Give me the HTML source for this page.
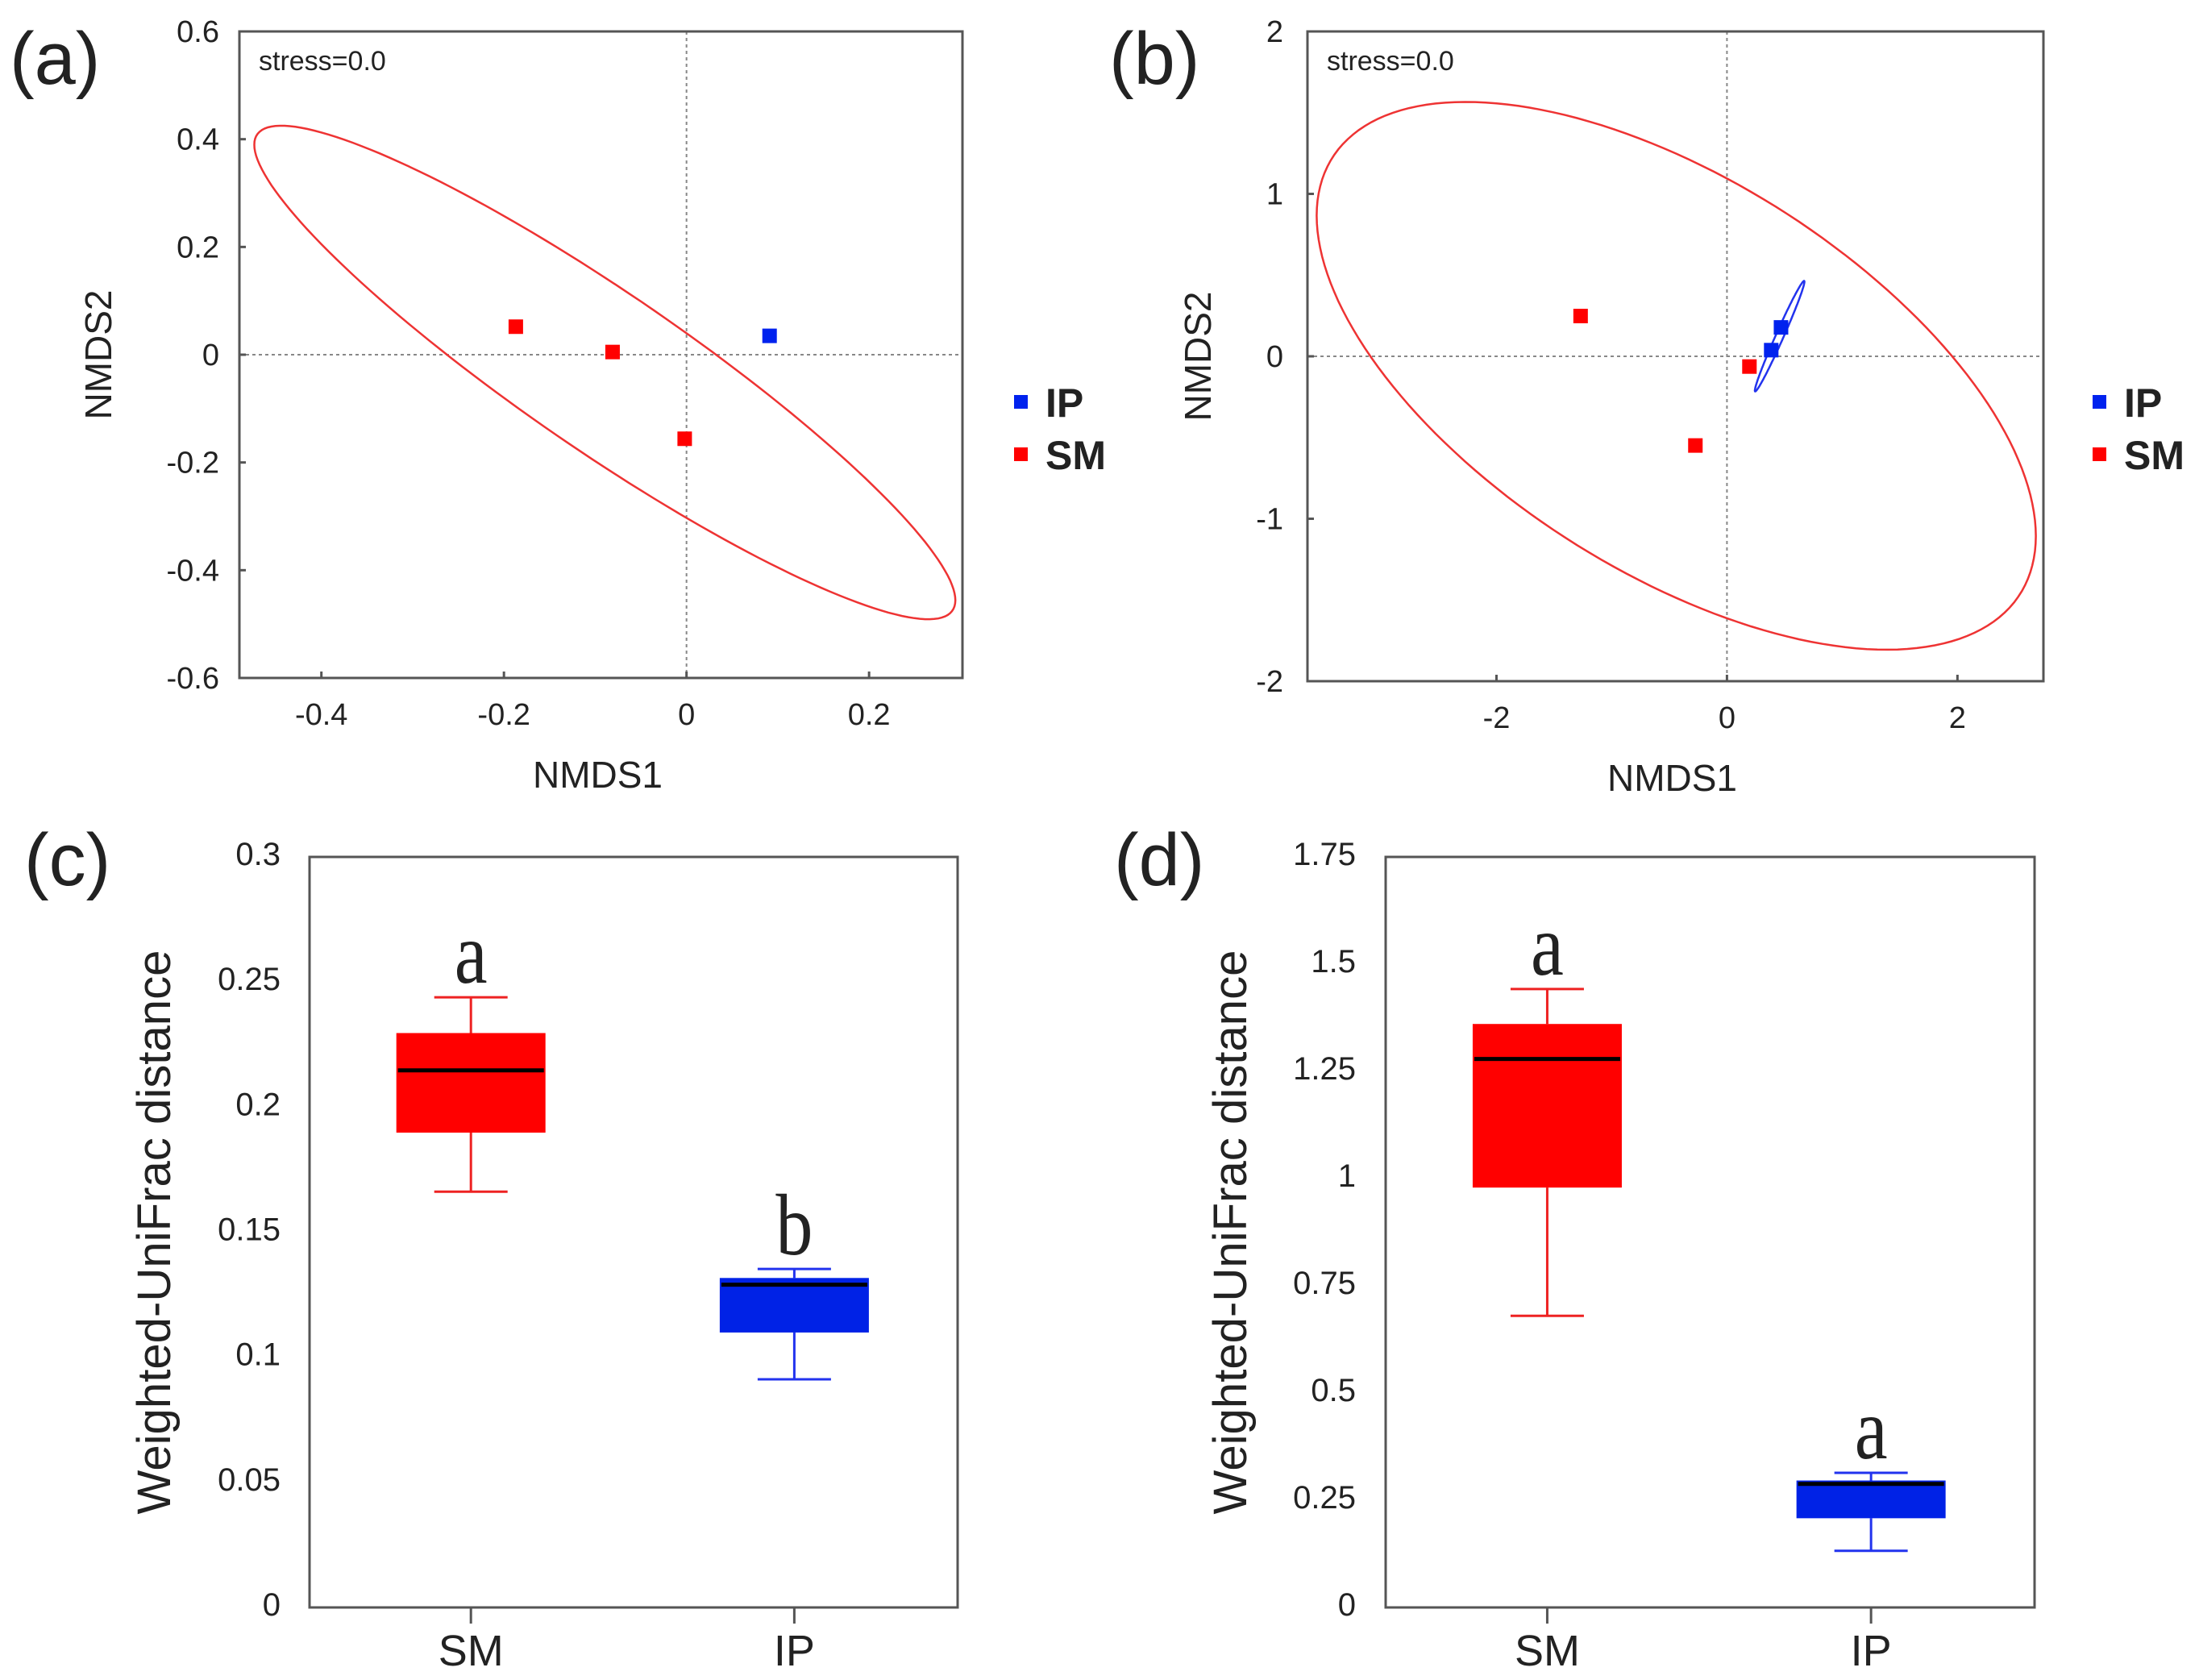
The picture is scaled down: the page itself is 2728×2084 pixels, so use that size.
<!DOCTYPE html>
<html><head><meta charset="utf-8"><style>
html,body{margin:0;padding:0;background:#fff;overflow:hidden;}
svg{display:block;}
text{font-family:"Liberation Sans",sans-serif;fill:#222;}
.serif{font-family:"Liberation Serif",serif;}
</style></head><body>
<svg id="fig" width="2728" height="2084" viewBox="0 0 2728 2084" xmlns="http://www.w3.org/2000/svg"></svg>
<script>
// ---- Panel (a) data ----
const aSMx = [-0.187, -0.081, -0.002];
const aSMy = [0.052, 0.005, -0.156];
const aIPx = [0.091];
const aIPy = [0.035];
const aEllipse = [-0.0895, -0.033, 0.384, 0.458, -0.923]; // cx, cy, rx, ry, cos(delta)
const aXTicks = [-0.4, -0.2, 0, 0.2];
const aXTickLabels = ["-0.4", "-0.2", "0", "0.2"];
const aYTicks = [0.6, 0.4, 0.2, 0, -0.2, -0.4, -0.6];
const aYTickLabels = ["0.6", "0.4", "0.2", "0", "-0.2", "-0.4", "-0.6"];
// ---- Panel (b) data ----
const bSMx = [-1.27, -0.274, 0.195];
const bSMy = [0.248, -0.549, -0.063];
const bIPx = [0.384, 0.469];
const bIPy = [0.038, 0.178];
const bEllipseSM = [-0.44, -0.12, 3.12, 1.686, -0.585];
const bEllipseIP = [0.457, 0.124, 0.215, 0.34, 0.985];
const bXTicks = [-2, 0, 2];
const bXTickLabels = ["-2", "0", "2"];
const bYTicks = [2, 1, 0, -1, -2];
const bYTickLabels = ["2", "1", "0", "-1", "-2"];
// ---- Panel (c) data: [whiskerLow, q1, median, q3, whiskerHigh] ----
const cCategories = ["SM", "IP"];
const cSM = [0.1662, 0.1898, 0.2147, 0.2296, 0.2439];
const cIP = [0.0912, 0.1099, 0.129, 0.1317, 0.1353];
const cLetters = ["a", "b"];
const cYTicks = [0, 0.05, 0.1, 0.15, 0.2, 0.25, 0.3];
const cYTickLabels = ["0", "0.05", "0.1", "0.15", "0.2", "0.25", "0.3"];
// ---- Panel (d) data ----
const dCategories = ["SM", "IP"];
const dSM = [0.680, 0.979, 1.279, 1.3605, 1.442];
const dIP = [0.132, 0.208, 0.288, 0.296, 0.314];
const dLetters = ["a", "a"];
const dYTicks = [0, 0.25, 0.5, 0.75, 1, 1.25, 1.5, 1.75];
const dYTickLabels = ["0", "0.25", "0.5", "0.75", "1", "1.25", "1.5", "1.75"];

const svg = document.getElementById('fig');
const NS = 'http://www.w3.org/2000/svg';
function mk(tag, attrs, parent, txt){
  const e = document.createElementNS(NS, tag);
  for (const k in attrs) e.setAttribute(k, attrs[k]);
  if (txt !== undefined) e.textContent = txt;
  (parent || svg).appendChild(e);
  return e;
}
function scale(d0, d1, r0, r1){ return v => r0 + (v - d0) * (r1 - r0) / (d1 - d0); }

function frame(g, L, T, R, B){
  const f = mk('rect', {x:L, y:T, width:R-L, height:B-T, fill:'none', stroke:'#555', 'stroke-width':3}, g);
  
  
}
function ellipsePath(p, sx, sy){
  let d = '';
  const delta = Math.acos(p[4]);
  for (let i = 0; i <= 180; i++){
    const t = i / 180 * 2 * Math.PI;
    const x = p[0] + p[2] * Math.cos(t);
    const y = p[1] + p[3] * Math.cos(t - delta);
    d += (i ? 'L' : 'M') + sx(x).toFixed(1) + ',' + sy(y).toFixed(1);
  }
  return d + 'Z';
}

function nmds(opt){
  const g = mk('g', {});
  
  
  const {L, T, R, B} = opt;
  const sx = scale(opt.xmin, opt.xmax, L, R);
  const sy = scale(opt.ymin, opt.ymax, B, T);
  const zx = mk('line', {x1:sx(0), y1:T, x2:sx(0), y2:B, stroke:'#888', 'stroke-width':2, 'stroke-dasharray':'4,4'}, g);
  
  
  const zy = mk('line', {x1:L, y1:sy(0), x2:R, y2:sy(0), stroke:'#888', 'stroke-width':2, 'stroke-dasharray':'4,4'}, g);
  
  
  frame(g, L, T, R, B);
  opt.xt.forEach((v, i) => {
    const tk = mk('line', {x1:sx(v), y1:B, x2:sx(v), y2:B-8, stroke:'#555', 'stroke-width':3}, g);
    
    
    const tl = mk('text', {x:sx(v), y:B+58, 'font-size':38, 'text-anchor':'middle'}, g, opt.xtl[i]);
    
    
  });
  opt.yt.forEach((v, i) => {
    const tk = mk('line', {x1:L, y1:sy(v), x2:L+8, y2:sy(v), stroke:'#555', 'stroke-width':3}, g);
    
    
    const tl = mk('text', {x:opt.ylabX, y:sy(v)+13, 'font-size':38, 'text-anchor':'end'}, g, opt.ytl[i]);
    
    
  });
  opt.ells.forEach(e => {
    const p = mk('path', {d:ellipsePath(e.p, sx, sy), fill:'none', stroke:e.c, 'stroke-width':2.5}, g);
    
    
  });
  const pts = (xs, ys, c, n) => xs.forEach((x, i) => {
    const r = mk('rect', {x:sx(x)-9, y:sy(ys[i])-9, width:18, height:18, fill:c}, g);
    
    
  });
  pts(opt.smx, opt.smy, '#ff0000', 'sm-point');
  pts(opt.ipx, opt.ipy, '#0022ee', 'ip-point');
  const st = mk('text', {x:L+24, y:T+48, 'font-size':34}, g, 'stress=0.0');
  
  
  const xt = mk('text', {x:(L+R)/2-4, y:B+136, 'font-size':46, 'text-anchor':'middle'}, g, 'NMDS1');
  
  
  const yt = mk('text', {x:0, y:0, 'font-size':46, 'text-anchor':'middle', transform:`translate(${opt.ytitleX},${sy(0)}) rotate(-90)`}, g, 'NMDS2');
  
  
  const pl = mk('text', {x:opt.plX, y:104, 'font-size':92}, g, opt.pl);
  
  
  const lg = mk('g', {}, g);
  
  
  [['IP', '#0022ee', 499], ['SM', '#ff0000', 564]].forEach(([n, c, y]) => {
    const s = mk('rect', {x:opt.legX-9, y:y-9, width:17, height:17, fill:c}, lg);
    
    
    const t = mk('text', {x:opt.legX+30, y:y+18, 'font-size':50, 'font-weight':'bold', fill:'#111'}, lg, n);
    
    
  });
}

nmds({name:'panel-a', L:297, T:39, R:1194, B:841, xmin:-0.4898, xmax:0.3023, ymin:-0.6, ymax:0.6,
  xt:aXTicks, xtl:aXTickLabels, yt:aYTicks, ytl:aYTickLabels, ylabX:272, ytitleX:138,
  smx:aSMx, smy:aSMy, ipx:aIPx, ipy:aIPy,
  ells:[{p:aEllipse, c:'#ee3333', n:'sm-ellipse'}], pl:'(a)', plX:12, legX:1267});
nmds({name:'panel-b', L:1622, T:39, R:2535, B:845, xmin:-3.64, xmax:2.746, ymin:-2, ymax:2,
  xt:bXTicks, xtl:bXTickLabels, yt:bYTicks, ytl:bYTickLabels, ylabX:1592, ytitleX:1502,
  smx:bSMx, smy:bSMy, ipx:bIPx, ipy:bIPy,
  ells:[{p:bEllipseSM, c:'#ee3333', n:'sm-ellipse'}, {p:bEllipseIP, c:'#2233ee', n:'ip-ellipse'}],
  pl:'(b)', plX:1376, legX:2605});

function boxplot(opt){
  const g = mk('g', {});
  
  
  const {L, T, R, B} = opt;
  const sy = scale(0, opt.ymax, B, T);
  const catX = i => L + (R - L) * (i === 0 ? 0.249 : 0.748);
  frame(g, L, T, R, B);
  opt.yt.forEach((v, i) => {
    const tl = mk('text', {x:opt.ylabX, y:sy(v)+10, 'font-size':40, 'text-anchor':'end'}, g, opt.ytl[i]);
    
    
  });
  const series = [[opt.sm, '#ff0000', '#ee2222'], [opt.ip, '#0022e6', '#2233ee']];
  series.forEach(([d, fill, wc], i) => {
    const cx = catX(i);
    const tk = mk('line', {x1:cx, y1:B, x2:cx, y2:B+20, stroke:'#555', 'stroke-width':3}, g);
    
    
    const cl = mk('text', {x:cx, y:B+72, 'font-size':54, 'text-anchor':'middle'}, g, opt.cats[i]);
    
    
    const bg = mk('g', {}, g);
    
    
    const w = 185, cw = 91;
    mk('line', {x1:cx, y1:sy(d[0]), x2:cx, y2:sy(d[1]), stroke:wc, 'stroke-width':3}, bg);
    mk('line', {x1:cx, y1:sy(d[3]), x2:cx, y2:sy(d[4]), stroke:wc, 'stroke-width':3}, bg);
    mk('line', {x1:cx-cw/2, y1:sy(d[0]), x2:cx+cw/2, y2:sy(d[0]), stroke:wc, 'stroke-width':3}, bg);
    mk('line', {x1:cx-cw/2, y1:sy(d[4]), x2:cx+cw/2, y2:sy(d[4]), stroke:wc, 'stroke-width':3}, bg);
    mk('rect', {x:cx-w/2, y:sy(d[3]), width:w, height:sy(d[1])-sy(d[3]), fill:fill}, bg);
    mk('line', {x1:cx-w/2+2, y1:sy(d[2]), x2:cx+w/2-2, y2:sy(d[2]), stroke:'#000', 'stroke-width':5}, bg);
    const lt = mk('text', {x:0, y:0, 'font-size':92, 'text-anchor':'middle', class:'serif', fill:'#111',
      transform:`translate(${cx},${sy(d[4])-18}) scale(1,1.18)`}, g, opt.letters[i]);
    
    
  });
  const yt = mk('text', {x:0, y:0, 'font-size':58, 'text-anchor':'middle', textLength:700, lengthAdjust:'spacingAndGlyphs',
    transform:`translate(${opt.ytitleX},${(T+B)/2}) rotate(-90)`}, g, 'Weighted-UniFrac distance');
  
  
  const pl = mk('text', {x:opt.plX, y:1098, 'font-size':92}, g, opt.pl);
  
  
}
boxplot({name:'panel-c', L:384, T:1063, R:1188, B:1994, ymax:0.3, yt:cYTicks, ytl:cYTickLabels, ylabX:348,
  sm:cSM, ip:cIP, cats:cCategories, letters:cLetters, ytitleX:211, pl:'(c)', plX:30});
boxplot({name:'panel-d', L:1719, T:1063, R:2524, B:1994, ymax:1.75, yt:dYTicks, ytl:dYTickLabels, ylabX:1682,
  sm:dSM, ip:dIP, cats:dCategories, letters:dLetters, ytitleX:1546, pl:'(d)', plX:1382});
</script>
</body></html>
